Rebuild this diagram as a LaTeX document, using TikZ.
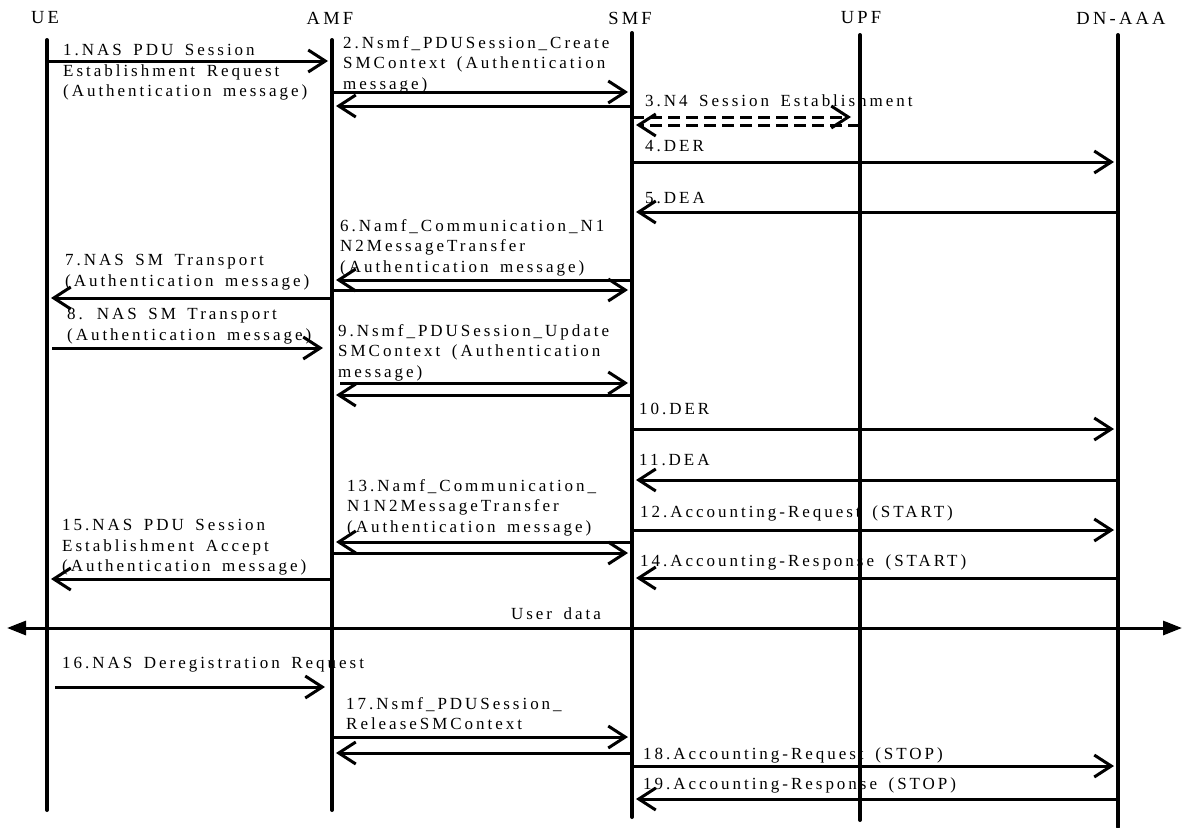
\documentclass[tikz,border=0pt]{standalone}
\usepackage{fontspec}
\setmainfont{Liberation Serif}[LetterSpace=17.5,WordSpace=1.6]
\usetikzlibrary{arrows.meta}
\tikzset{
  life/.style={black, line width=4pt, line cap=round},
  msg/.style={black, line width=3pt, -{Straight Barb[length=17pt,width=22pt]}, shorten >=4pt},
  dmsg/.style={msg, dash pattern=on 12pt off 6pt},
  both/.style={black, line width=3pt, {Triangle[length=19pt,width=14pt]}-{Triangle[length=19pt,width=14pt]}},
  lbl/.style={anchor=north west, align=left},
  head/.style={anchor=center, font=\fontsize{18.5}{22}\selectfont}
}
\begin{document}
\begin{tikzpicture}[x=1pt,y=1pt]
    \tikzstyle{every node}+=[inner sep=0pt, font=\fontsize{17}{20.7}\selectfont]
    \useasboundingbox (0,0) rectangle (1182,-827);
    \node (ue head) [head] at (45,-18) {UE};
    \node (amf head) [head] at (330,-18) {AMF};
    \node (smf head) [head] at (630,-18) {SMF};
    \node (upf head) [head] at (861,-18) {UPF};
    \node (dn head) [head] at (1121,-18) {DN-AAA};
    \coordinate (ue) at (47,-40);
    \coordinate (ue end) at (47,-810);
    \coordinate (amf) at (332,-40);
    \coordinate (amf end) at (332,-810);
    \coordinate (smf) at (632,-33);
    \coordinate (smf end) at (632,-817);
    \coordinate (upf) at (860,-35);
    \coordinate (upf end) at (860,-820);
    \coordinate (dn) at (1118,-35);
    \coordinate (dn end) at (1118,-827);
    \draw [life] (ue) -- (ue end);
    \draw [life] (amf) -- (amf end);
    \draw [life] (smf) -- (smf end);
    \draw [life] (upf) -- (upf end);
    \draw [life] (dn) -- (dn end);
    \node (l1) [lbl] at (63,-44) {1.NAS PDU Session\\Establishment Request\\(Authentication message)};
    \draw [msg] (ue |- 0,-61) -- (amf |- 0,-61);
    \node (l2) [lbl] at (343,-36) {2.Nsmf\_PDUSession\_Create\\SMContext (Authentication\\message)};
    \draw [msg] (amf |- 0,-92) -- (smf |- 0,-92);
    \draw [msg] (smf |- 0,-106) -- (amf |- 0,-106);
    \node (l3) [lbl] at (645,-95) {3.N4 Session Establishment};
    \draw [dmsg, shorten >=9pt] (smf |- 0,-117) -- (upf |- 0,-117);
    \draw [dmsg] (upf |- 0,-125) -- (smf |- 0,-125);
    \node (l4) [lbl] at (645,-140) {4.DER};
    \draw [msg] (smf |- 0,-162) -- (dn |- 0,-162);
    \node (l5) [lbl] at (645,-192) {5.DEA};
    \draw [msg] (dn |- 0,-212) -- (smf |- 0,-212);
    \node (l6) [lbl] at (340,-219) {6.Namf\_Communication\_N1\\N2MessageTransfer\\(Authentication message)};
    \draw [msg] (smf |- 0,-280) -- (amf |- 0,-280);
    \draw [msg] (amf |- 0,-290) -- (smf |- 0,-290);
    \node (l7) [lbl] at (65,-254) {7.NAS SM Transport\\(Authentication message)};
    \draw [msg] (amf |- 0,-298) -- (ue |- 0,-298);
    \node (l8) [lbl] at (67,-308) {8. NAS SM Transport\\(Authentication message)};
    \draw [msg, shorten <=5pt, shorten >=9pt] (ue |- 0,-348) -- (amf |- 0,-348);
    \node (l9) [lbl] at (338,-324) {9.Nsmf\_PDUSession\_Update\\SMContext (Authentication\\message)};
    \draw [msg, shorten <=8pt] (amf |- 0,-383) -- (smf |- 0,-383);
    \draw [msg] (smf |- 0,-395) -- (amf |- 0,-395);
    \node (l10) [lbl] at (639,-403) {10.DER};
    \draw [msg] (smf |- 0,-429) -- (dn |- 0,-429);
    \node (l11) [lbl] at (639,-454) {11.DEA};
    \draw [msg] (dn |- 0,-480) -- (smf |- 0,-480);
    \node (l12) [lbl] at (640,-505) {12.Accounting-Request (START)};
    \draw [msg] (smf |- 0,-530) -- (dn |- 0,-530);
    \node (l13) [lbl] at (347,-479) {13.Namf\_Communication\_\\N1N2MessageTransfer\\(Authentication message)};
    \draw [msg] (smf |- 0,-542) -- (amf |- 0,-542);
    \draw [msg] (amf |- 0,-553) -- (smf |- 0,-553);
    \node (l14) [lbl] at (640,-554) {14.Accounting-Response (START)};
    \draw [msg] (dn |- 0,-578) -- (smf |- 0,-578);
    \node (l15) [lbl] at (62,-519) {15.NAS PDU Session\\Establishment Accept\\(Authentication message)};
    \draw [msg] (amf |- 0,-579) -- (ue |- 0,-579);
    \node (ud) [head, font=\fontsize{17}{20.7}\selectfont] at (556,-614) {User data};
    \coordinate (ud left) at (7,-628);
    \coordinate (ud right) at (1182,-628);
    \draw [both] (ud left) -- (ud right);
    \node (l16) [lbl] at (62,-657) {16.NAS Deregistration Request};
    \draw [msg, shorten <=8pt, shorten >=7pt] (ue |- 0,-687) -- (amf |- 0,-687);
    \node (l17) [lbl] at (346,-697) {17.Nsmf\_PDUSession\_\\ReleaseSMContext};
    \draw [msg] (amf |- 0,-737) -- (smf |- 0,-737);
    \draw [msg] (smf |- 0,-753) -- (amf |- 0,-753);
    \node (l18) [lbl] at (643,-747) {18.Accounting-Request (STOP)};
    \draw [msg] (smf |- 0,-766) -- (dn |- 0,-766);
    \node (l19) [lbl] at (643,-777) {19.Accounting-Response (STOP)};
    \draw [msg] (dn |- 0,-799) -- (smf |- 0,-799);
\end{tikzpicture}
\end{document}
